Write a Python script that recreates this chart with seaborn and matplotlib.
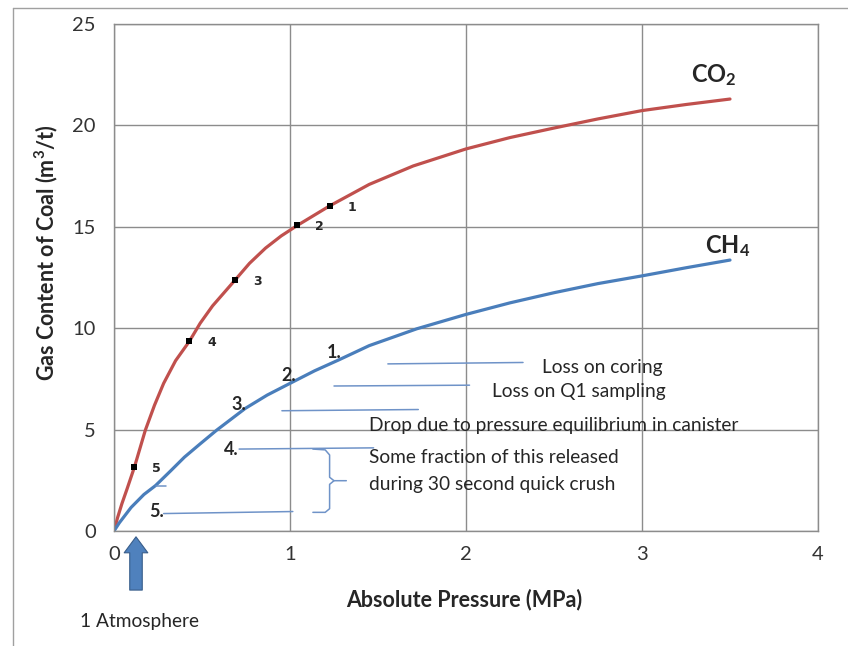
import matplotlib
matplotlib.use("Agg")
import matplotlib.pyplot as plt
import matplotlib.lines as mlines
import pandas as pd
import seaborn as sns

# CO2 sorption curve (MPa, m3/t)
co2_pressure = [0, 0.02, 0.045, 0.074, 0.116, 0.178, 0.23, 0.282, 0.35, 0.428, 0.49, 0.56,
                0.6875, 0.77, 0.861, 0.95, 1.042, 1.225, 1.45, 1.7, 2.0, 2.25, 2.5, 2.75,
                3.0, 3.25, 3.5]
co2_content = [0, 0.65, 1.35, 2.07, 3.15, 4.97, 6.2, 7.28, 8.4, 9.35, 10.25, 11.1,
               12.37, 13.2, 13.95, 14.55, 15.07, 16.03, 17.09, 18.0, 18.84, 19.4, 19.87, 20.32,
               20.73, 21.03, 21.3]

# CH4 sorption curve
ch4_pressure = [0, 0.03, 0.097, 0.17, 0.236, 0.32, 0.4, 0.49, 0.583, 0.745, 0.87, 1.0,
                1.14, 1.278, 1.45, 1.72, 2.0, 2.25, 2.5, 2.75, 3.0, 3.25, 3.5]
ch4_content = [0, 0.4, 1.16, 1.8, 2.24, 2.95, 3.64, 4.3, 4.97, 6.04, 6.7, 7.28,
               7.9, 8.44, 9.14, 9.97, 10.68, 11.25, 11.75, 12.2, 12.58, 12.98, 13.36]

# numbered sampling points on the CO2 curve
step_labels = ["1", "2", "3", "4", "5"]
step_pressure = [1.225, 1.042, 0.6875, 0.428, 0.116]
step_content = [16.03, 15.07, 12.37, 9.35, 3.15]

x_ticks = [0, 1, 2, 3, 4]
y_ticks = [0, 5, 10, 15, 20, 25]

RED = "#c0504d"
BLUE = "#4a7ebb"
NOTE = "#6f93c8"
GRID = "#8c8c8c"

sns.set_style("white")
plt.rcParams["font.family"] = ["Lato", "DejaVu Sans"]
plt.rcParams["mathtext.fontset"] = "custom"
plt.rcParams["mathtext.rm"] = "Lato"
plt.rcParams["mathtext.bf"] = "Lato:bold"
plt.rcParams["mathtext.default"] = "bf"

co2 = pd.DataFrame({"p": co2_pressure, "v": co2_content})
ch4 = pd.DataFrame({"p": ch4_pressure, "v": ch4_content})
steps = pd.DataFrame({"p": step_pressure, "v": step_content, "label": step_labels})

fig = plt.figure(figsize=(8.48, 6.46), dpi=100)
ax = fig.add_axes([114 / 848, 1 - 531 / 646, 704 / 848, 507 / 646])

sns.lineplot(data=co2, x="p", y="v", color=RED, linewidth=2.3, ax=ax)
sns.lineplot(data=ch4, x="p", y="v", color=BLUE, linewidth=2.3, ax=ax)
sns.scatterplot(data=steps, x="p", y="v", marker="s", s=18, color="black",
                edgecolor="black", linewidth=0, zorder=5, ax=ax)
for _, row in steps.iterrows():
    ax.annotate(row["label"], (row["p"], row["v"]), xytext=(13, -1),
                textcoords="offset points", fontsize=9, fontweight="bold",
                family="DejaVu Sans", va="center", ha="left")

ax.set_xlim(0, 4)
ax.set_ylim(0, 25)
ax.set_xticks(x_ticks)
ax.set_yticks(y_ticks)
ax.grid(True, color=GRID, linewidth=1)
for s in ax.spines.values():
    s.set_color(GRID)
    s.set_linewidth(1)
ax.tick_params(axis="both", which="both", length=5, color=GRID, labelsize=14.5,
               labelcolor="#333333", direction="out")
ax.tick_params(axis="x", pad=6)
ax.tick_params(axis="y", pad=8)

ax.set_xlabel("Absolute Pressure (MPa)", fontsize=15.5, fontweight="bold")
ax.xaxis.set_label_coords(0.497, -0.113)
ax.set_ylabel("Gas Content of Coal (m$^\\mathbf{3}$/t)", fontsize=15.5, fontweight="bold")
ax.yaxis.set_label_coords(-0.076, 0.548)

# gas labels
ax.text(3.28, 22.5, "CO$_\\mathbf{2}$", fontsize=17, fontweight="bold", ha="left", va="center")
ax.text(3.36, 14.05, "CH$_\\mathbf{4}$", fontsize=17, fontweight="bold", ha="left", va="center")

# numbered steps on the CH4 curve
for txt, px, py in [("1.", 1.25, 8.8), ("2.", 0.993, 7.65), ("3.", 0.711, 6.26),
                    ("4.", 0.669, 4.02), ("5.", 0.241, 0.96)]:
    ax.text(px, py, txt, fontsize=13, fontweight="bold", ha="center", va="center")

# leader lines for the notes
note_lines = [
    ((1.556, 2.324), (8.24, 8.31)),
    ((1.25, 2.02), (7.15, 7.19)),
    ((0.954, 1.729), (5.93, 5.99)),
    ((0.711, 1.475), (4.04, 4.1)),
    ((0.282, 1.016), (0.86, 0.96)),
    ((0.236, 0.294), (2.2, 2.2)),
]
for xs, ys in note_lines:
    ax.plot(xs, ys, color=NOTE, linewidth=1.1)

# curly brace
ax.plot([1.13, 1.2, 1.225, 1.225, 1.25, 1.32], [4.04, 4.0, 3.75, 2.65, 2.48, 2.48],
        color=NOTE, linewidth=1.1)
ax.plot([1.25, 1.225, 1.225, 1.2, 1.13], [2.48, 2.3, 1.1, 0.92, 0.92],
        color=NOTE, linewidth=1.1)

note_kw = dict(fontsize=13.75, color="#262626", ha="left", va="center")
ax.text(2.43, 8.08, "Loss on coring", **note_kw)
ax.text(2.148, 6.87, "Loss on Q1 sampling", **note_kw)
ax.text(1.447, 5.22, "Drop due to pressure equilibrium in canister", **note_kw)
ax.text(1.447, 3.61, "Some fraction of this released", **note_kw)
ax.text(1.447, 2.28, "during 30 second quick crush", **note_kw)

# 1 atmosphere arrow
ax.annotate("", xy=(0.125, -0.15), xytext=(0.125, -3.05),
            arrowprops=dict(arrowstyle="simple,head_length=1.15,head_width=1.7,tail_width=0.9",
                            mutation_scale=10, facecolor="#4f81bd", edgecolor="#385d8a",
                            linewidth=0.8),
            annotation_clip=False)
fig.text(80 / 848, 1 - 622 / 646, "1 Atmosphere", fontsize=13.75, color="#262626",
         ha="left", va="center")

# outer frame fragments
fig.add_artist(mlines.Line2D([13 / 848, 13 / 848], [0, 1 - 8 / 646],
                             transform=fig.transFigure, color="#a0a0a0", linewidth=1))
fig.add_artist(mlines.Line2D([13 / 848, 1], [1 - 8 / 646, 1 - 8 / 646],
                             transform=fig.transFigure, color="#a0a0a0", linewidth=1))

fig.savefig("out.png", dpi=100)
